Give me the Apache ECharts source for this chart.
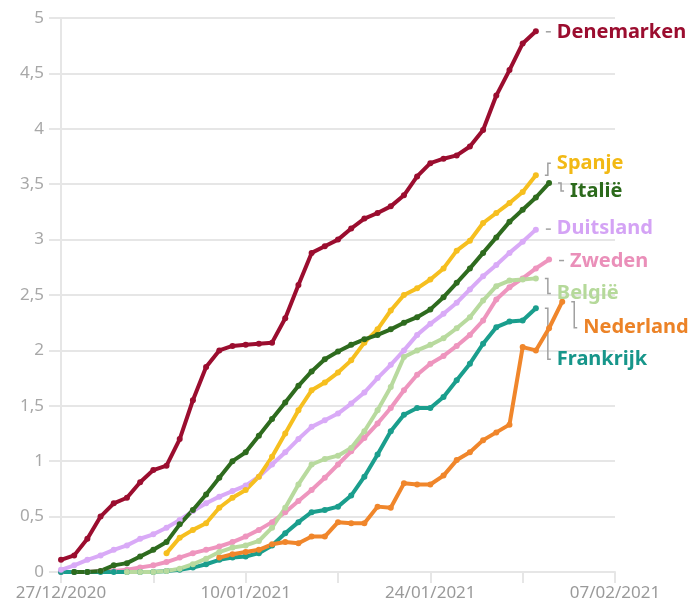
<!DOCTYPE html>
<html>
<head>
<meta charset="utf-8">
<script src="https://cdn.jsdelivr.net/npm/echarts@6/dist/echarts.min.js"></script>
<style>
html,body{margin:0;padding:0;background:#fff;}
#chart{width:690px;height:607px;}
</style>
</head>
<body>
<div id="chart"></div>
<script>
// Categories (days)
const dates = [
  '27/12/2020','28/12/2020','29/12/2020','30/12/2020','31/12/2020',
  '01/01/2021','02/01/2021','03/01/2021','04/01/2021','05/01/2021','06/01/2021','07/01/2021',
  '08/01/2021','09/01/2021','10/01/2021','11/01/2021','12/01/2021','13/01/2021','14/01/2021',
  '15/01/2021','16/01/2021','17/01/2021','18/01/2021','19/01/2021','20/01/2021','21/01/2021',
  '22/01/2021','23/01/2021','24/01/2021','25/01/2021','26/01/2021','27/01/2021','28/01/2021',
  '29/01/2021','30/01/2021','31/01/2021','01/02/2021','02/02/2021','03/02/2021','04/02/2021',
  '05/02/2021','06/02/2021','07/02/2021'
];
const yTicks = [0, 0.5, 1, 1.5, 2, 2.5, 3, 3.5, 4, 4.5, 5];

// Series values (first value belongs to the start date given in startIdx)
const denemarken = [0.11,0.15,0.30,0.50,0.62,0.67,0.81,0.92,0.96,1.20,1.55,1.85,2.00,2.04,2.05,2.06,2.07,2.29,2.59,2.88,2.94,3.00,3.10,3.19,3.24,3.30,3.40,3.57,3.69,3.73,3.76,3.84,3.99,4.30,4.53,4.77,4.88];
const spanje = [0.17,0.31,0.38,0.44,0.58,0.67,0.74,0.86,1.04,1.25,1.46,1.64,1.71,1.80,1.91,2.07,2.19,2.36,2.50,2.56,2.64,2.74,2.90,2.99,3.15,3.24,3.33,3.43,3.58];
const italie = [0.00,0.00,0.01,0.06,0.08,0.14,0.20,0.27,0.43,0.56,0.70,0.85,1.00,1.08,1.23,1.38,1.53,1.68,1.81,1.92,1.99,2.05,2.10,2.14,2.19,2.25,2.30,2.37,2.48,2.61,2.74,2.88,3.02,3.16,3.27,3.38,3.51];
const duitsland = [0.02,0.06,0.11,0.15,0.20,0.24,0.30,0.34,0.40,0.47,0.55,0.62,0.68,0.73,0.78,0.86,0.97,1.08,1.20,1.31,1.37,1.43,1.52,1.62,1.75,1.87,2.00,2.14,2.24,2.33,2.43,2.55,2.67,2.77,2.88,2.98,3.09];
const zweden = [0.00,0.00,0.00,0.01,0.01,0.02,0.04,0.06,0.09,0.13,0.17,0.20,0.23,0.27,0.32,0.38,0.45,0.54,0.64,0.74,0.85,0.97,1.09,1.21,1.34,1.48,1.64,1.78,1.88,1.95,2.04,2.14,2.27,2.46,2.57,2.65,2.74,2.82];
const belgie = [0.00,0.00,0.00,0.01,0.03,0.07,0.12,0.18,0.22,0.24,0.28,0.40,0.58,0.79,0.97,1.02,1.05,1.12,1.27,1.46,1.67,1.94,2.00,2.05,2.11,2.20,2.30,2.45,2.58,2.63,2.64,2.65];
const nederland = [0.13,0.16,0.18,0.20,0.25,0.27,0.26,0.32,0.32,0.45,0.44,0.44,0.59,0.58,0.80,0.79,0.79,0.87,1.01,1.08,1.19,1.26,1.33,2.03,2.00,2.20,2.44];
const frankrijk = [0,0,0,0,0,0,0,0,0.01,0.02,0.04,0.07,0.11,0.13,0.14,0.17,0.24,0.35,0.45,0.54,0.56,0.59,0.69,0.86,1.06,1.27,1.42,1.48,1.48,1.58,1.73,1.88,2.06,2.21,2.26,2.27,2.38];

const names = ['Zweden','Frankrijk','Nederland','België','Duitsland','Spanje','Italië','Denemarken'];
const values = {
  'Denemarken': denemarken, 'Spanje': spanje, 'Italië': italie, 'Duitsland': duitsland,
  'Zweden': zweden, 'België': belgie, 'Nederland': nederland, 'Frankrijk': frankrijk
};
const startIdx = {
  'Denemarken': 0, 'Spanje': 8, 'Italië': 1, 'Duitsland': 0,
  'Zweden': 0, 'België': 5, 'Nederland': 12, 'Frankrijk': 0
};

// Styling
const colors = {
  'Denemarken': '#9b0d2f', 'Spanje': '#f6bf1f', 'Italië': '#2e6b1e', 'Duitsland': '#d9aaf7',
  'Zweden': '#ee95be', 'België': '#b8da9e', 'Nederland': '#f0862b', 'Frankrijk': '#1a9e8d'
};
const labelColors = {
  'Denemarken': '#9b0d2f', 'Spanje': '#f2b915', 'Italië': '#2c6a1c', 'Duitsland': '#d4a3f5',
  'Zweden': '#ea8fb9', 'België': '#b5d99a', 'Nederland': '#ec8327', 'Frankrijk': '#17968a'
};
const labelDy = {
  'Denemarken': 1, 'Spanje': -12, 'Italië': 8, 'Duitsland': -1,
  'Zweden': 2, 'België': 15, 'Nederland': 26, 'Frankrijk': 51
};
const FONT = '"Noto Sans", "Open Sans", sans-serif';

function padded(name) {
  const arr = [];
  for (let i = 0; i < startIdx[name]; i++) arr.push(null);
  return arr.concat(values[name]);
}

const lineSeries = names.map(name => ({
  name: name,
  type: 'line',
  data: padded(name),
  symbol: 'circle',
  symbolSize: 6,
  showSymbol: true,
  connectNulls: false,
  lineStyle: { width: 4, color: colors[name] },
  itemStyle: { color: colors[name] },
  emphasis: { disabled: true },
  endLabel: {
    show: true,
    formatter: '{a}',
    position: 'right',
    distance: 0,
    offset: [21, labelDy[name]],
    color: labelColors[name],
    fontFamily: FONT,
    fontWeight: 'bold',
    fontSize: 20
  },
  z: 2
}));

// connector lines from last point to label
const connectorData = names.map(name => {
  const v = values[name];
  return [startIdx[name] + v.length - 1, v[v.length - 1], names.indexOf(name)];
});

const connectorSeries = {
  type: 'custom',
  silent: true,
  clip: false,
  z: 1,
  data: connectorData,
  renderItem: function (params, api) {
    const idx = api.value(0), val = api.value(1);
    const name = names[api.value(2)];
    const p = api.coord([idx, val]);
    const dy = labelDy[name];
    let pts;
    if (Math.abs(dy) <= 4) {
      pts = [[p[0] + 10, p[1] + dy / 2], [p[0] + 15, p[1] + dy / 2]];
    } else {
      pts = [[p[0] + 9, p[1]], [p[0] + 12, p[1]], [p[0] + 12, p[1] + dy], [p[0] + 15, p[1] + dy]];
    }
    return {
      type: 'polyline',
      shape: { points: pts },
      style: { stroke: '#a0a0a0', lineWidth: 1.5, fill: null }
    };
  }
};

const chart = echarts.init(document.getElementById('chart'), null, { renderer: 'canvas' });
chart.setOption({
  animation: false,
  backgroundColor: '#ffffff',
  grid: { left: 61, right: 75, top: 18, bottom: 35, containLabel: false },
  xAxis: {
    type: 'category',
    data: dates,
    boundaryGap: false,
    axisLine: { show: true, lineStyle: { color: '#e6e6e6', width: 2 } },
    axisTick: { show: true, interval: 6, length: 11, lineStyle: { color: '#e6e6e6', width: 2 } },
    axisLabel: { interval: 13, color: '#9a9a9a', fontSize: 17, fontFamily: FONT, margin: 13 },
    splitLine: { show: false }
  },
  yAxis: {
    type: 'value',
    min: yTicks[0],
    max: yTicks[yTicks.length - 1],
    interval: 0.5,
    axisLine: { show: true, lineStyle: { color: '#e6e6e6', width: 2 } },
    axisTick: { show: true, length: 12, lineStyle: { color: '#e6e6e6', width: 2 } },
    axisLabel: {
      color: '#a8a8a8', fontSize: 17, fontFamily: FONT, margin: 17,
      formatter: v => String(v).replace('.', ',')
    },
    splitLine: { show: true, lineStyle: { color: '#e6e6e6', width: 2 } }
  },
  series: lineSeries.concat([connectorSeries])
});
</script>
</body>
</html>
